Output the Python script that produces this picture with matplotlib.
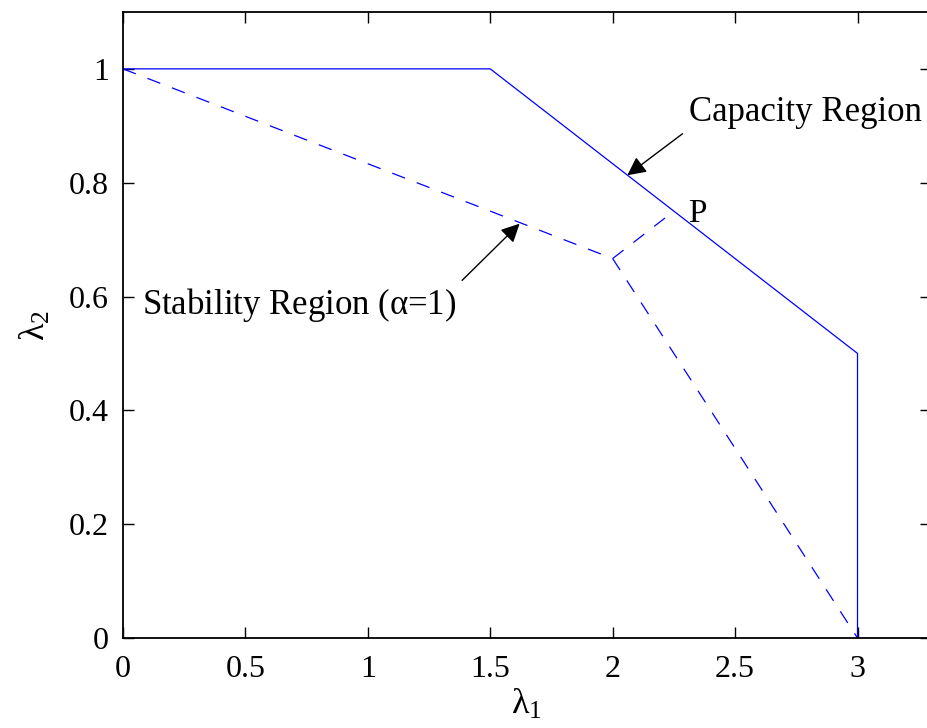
import matplotlib
matplotlib.use('Agg')
import matplotlib.pyplot as plt

# capacity region boundary
cap_x = [0, 1.5, 3, 3]
cap_y = [1, 1, 0.5, 0]
# stability region boundary (alpha = 1)
stab_x = [0, 2, 3]
stab_y = [1, 0.6667, 0]
# segment from the stability vertex to P
p_x = [2, 2.25]
p_y = [0.6667, 0.75]

plt.rcParams['font.family'] = ['Liberation Serif', 'DejaVu Serif']

fig = plt.figure(figsize=(9.28, 7.28), dpi=100)
ax = fig.add_axes([0.1325, 0.1236, 0.8707, 0.86])

ax.plot(cap_x, cap_y, '-', color='blue', lw=0.9)
ax.plot(stab_x, stab_y, '--', color='blue', lw=0.9, dashes=(11, 10))
ax.plot(p_x, p_y, '--', color='blue', lw=0.9, dashes=(11, 10))

ax.set_xlim(0, 3.3)
ax.set_ylim(0, 1.1)
ax.set_xticks([0, 0.5, 1, 1.5, 2, 2.5, 3])
ax.set_xticklabels(['0', '0.5', '1', '1.5', '2', '2.5', '3'])
ax.set_yticks([0, 0.2, 0.4, 0.6, 0.8, 1])
ax.set_yticklabels(['0', '0.2', '0.4', '0.6', '0.8', '1'])
ax.tick_params(direction='in', length=8, width=1, labelsize=23,
               top=True, right=True)
ax.tick_params(axis='x', pad=12)
ax.tick_params(axis='y', pad=10)
for s in ax.spines.values():
    s.set_linewidth(1.3)

ax.set_xlabel(r'$\mathregular{\lambda_1}$', fontsize=26, labelpad=3)
ax.set_ylabel(r'$\mathregular{\lambda_2}$', fontsize=26, labelpad=12)

ax.text(2.31, 0.745, 'P', fontsize=24, va='center', ha='left')
ax.annotate('Capacity Region', xy=(2.06, 0.813), xytext=(2.31, 0.923),
            fontsize=25, va='center', ha='left',
            arrowprops=dict(arrowstyle='-|>', color='black', lw=1,
                            mutation_scale=28, shrinkA=3, shrinkB=0,
                            relpos=(0.0, 0.0)))
ax.annotate(r'Stability Region ($\mathregular{\alpha}$=1)', xy=(1.62, 0.728),
            xytext=(0.078, 0.585), fontsize=25, va='center', ha='left',
            arrowprops=dict(arrowstyle='-|>', color='black', lw=1,
                            mutation_scale=28, shrinkA=3, shrinkB=0,
                            relpos=(1.0, 1.0)))

fig.savefig('out.png', dpi=100)
